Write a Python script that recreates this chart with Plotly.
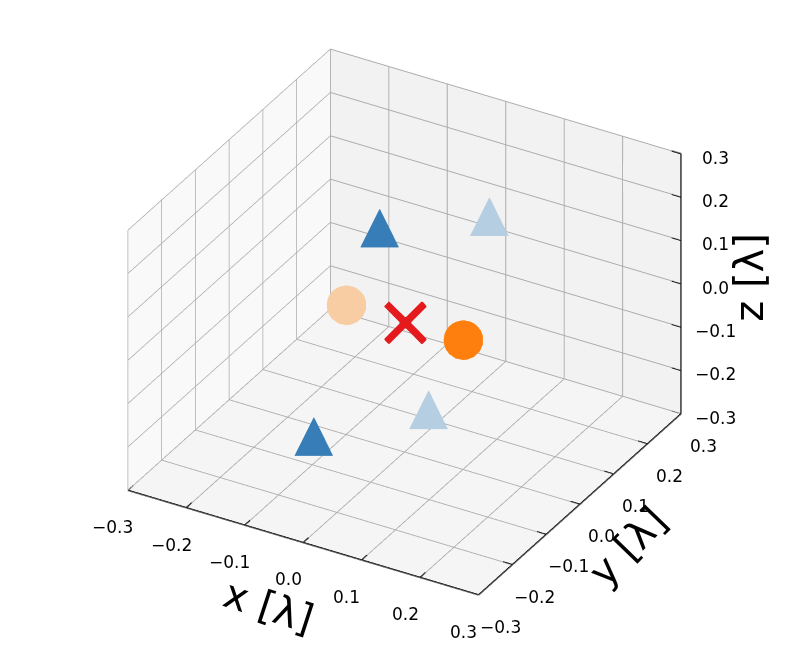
import numpy as np
import plotly.graph_objects as go

# positions in units of wavelength
tri_near_x = [0.0, 0.0]
tri_near_y = [-0.075, -0.27]
tri_near_z = [0.27, -0.075]

tri_far_x = [0.0, 0.0]
tri_far_y = [0.25, 0.07]
tri_far_z = [0.07, -0.25]

circ_near = [0.1, 0.0, 0.0]
circ_far = [-0.1, 0.0, 0.0]
target = [0.0, 0.0, 0.0]

ticks = [-0.3, -0.2, -0.1, 0.0, 0.1, 0.2, 0.3]
tick_labels = ["\u22120.3", "\u22120.2", "\u22120.1", "0.0", "0.1", "0.2", "0.3"]

font = "DejaVu Sans, Arial, sans-serif"
lo, hi = ticks[0], ticks[-1]
tl = 0.016  # length of the little tick marks (drawn inwards, outside gets clipped)

traces = []
# blue triangles (scatter3d has no triangle marker, so use a glyph)
traces.append(go.Scatter3d(x=tri_far_x, y=tri_far_y, z=tri_far_z, mode="text",
                           text=["\u25B2"] * 2, textposition="middle center",
                           textfont=dict(size=51, color="rgb(181,206,226)", family=font)))
traces.append(go.Scatter3d(x=tri_near_x, y=tri_near_y, z=tri_near_z, mode="text",
                           text=["\u25B2"] * 2, textposition="middle center",
                           textfont=dict(size=51, color="rgb(55,126,184)", family=font)))
# orange circles
traces.append(go.Scatter3d(x=[circ_far[0]], y=[circ_far[1]], z=[circ_far[2]], mode="markers",
                           marker=dict(size=23, color="rgb(249,205,163)", line=dict(width=0))))
traces.append(go.Scatter3d(x=[circ_near[0]], y=[circ_near[1]], z=[circ_near[2]], mode="markers",
                           marker=dict(size=23, color="rgb(255,127,14)", line=dict(width=0))))
# red cross at the target
traces.append(go.Scatter3d(x=[target[0]], y=[target[1]], z=[target[2]], mode="text",
                           text=["\u2715"], textposition="middle center",
                           textfont=dict(size=74, color="rgb(228,26,28)", family=font)))

# black axis lines with small tick marks, on the same edges matplotlib uses
ax_x, ax_y, ax_z = [lo, hi, None], [lo, lo, None], [lo, lo, None]
ax_x += [hi, hi, None]; ax_y += [lo, hi, None]; ax_z += [lo, lo, None]
ax_x += [hi, hi, None]; ax_y += [hi, hi, None]; ax_z += [lo, hi, None]
for t in ticks:
    ax_x += [t, t, None]; ax_y += [lo, lo + tl, None]; ax_z += [lo, lo, None]
    ax_x += [hi - tl, hi, None]; ax_y += [t, t, None]; ax_z += [lo, lo, None]
    ax_x += [hi - tl, hi, None]; ax_y += [hi, hi, None]; ax_z += [t, t, None]
traces.append(go.Scatter3d(x=ax_x, y=ax_y, z=ax_z, mode="lines",
                           line=dict(color="black", width=3), connectgaps=False))


def axis(bg):
    return dict(title=dict(text=""), range=[lo, hi], tickvals=ticks,
                showticklabels=False, ticks="",
                showbackground=True, backgroundcolor=bg,
                gridcolor="rgb(172,172,172)", gridwidth=2,
                showline=False, zeroline=False, showspikes=False)


tfont = dict(size=17, family=font, color="black")
afont = dict(size=40, family=font, color="black")
ann = []
for t, s in zip(ticks, tick_labels):
    ann.append(dict(x=t, y=lo, z=lo, text=s, showarrow=False, font=tfont,
                    xshift=-15, yshift=-37))
    ann.append(dict(x=hi, y=t, z=lo, text=s, showarrow=False, font=tfont,
                    xshift=22, yshift=-32))
    ann.append(dict(x=hi, y=hi, z=t, text=s, showarrow=False, font=tfont,
                    xshift=34, yshift=-4))
ann.append(dict(x=0, y=lo, z=lo, text="x [\u03bb]", showarrow=False, font=afont,
                textangle=18, xshift=-35, yshift=-64))
ann.append(dict(x=hi, y=0, z=lo, text="y [\u03bb]", showarrow=False, font=afont,
                textangle=-46, xshift=48, yshift=-42))
ann.append(dict(x=hi, y=hi, z=0, text="z [\u03bb]", showarrow=False, font=afont,
                textangle=-90, xshift=68, yshift=6))

elev, azim, r = np.radians(30), np.radians(-60), 1.6
eye = dict(x=r * np.cos(elev) * np.cos(azim), y=r * np.cos(elev) * np.sin(azim), z=r * np.sin(elev))

k = 1.25  # box size (orthographic zoom)
layout = go.Layout(
    width=793, height=661, showlegend=False,
    paper_bgcolor="white", margin=dict(l=0, r=0, t=0, b=0),
    scene=dict(
        xaxis=axis("rgb(249,249,249)"),
        yaxis=axis("rgb(242,242,242)"),
        zaxis=axis("rgb(245,245,245)"),
        aspectmode="manual", aspectratio=dict(x=k, y=k, z=0.75 * k),
        camera=dict(eye=eye, center=dict(x=0, y=0, z=-0.036), up=dict(x=0, y=0, z=1),
                    projection=dict(type="orthographic")),
        domain=dict(x=[0.0, 1], y=[0.02, 1]),
        annotations=ann,
    ),
)

fig = go.Figure(data=traces, layout=layout)
fig.write_html("out.html")
